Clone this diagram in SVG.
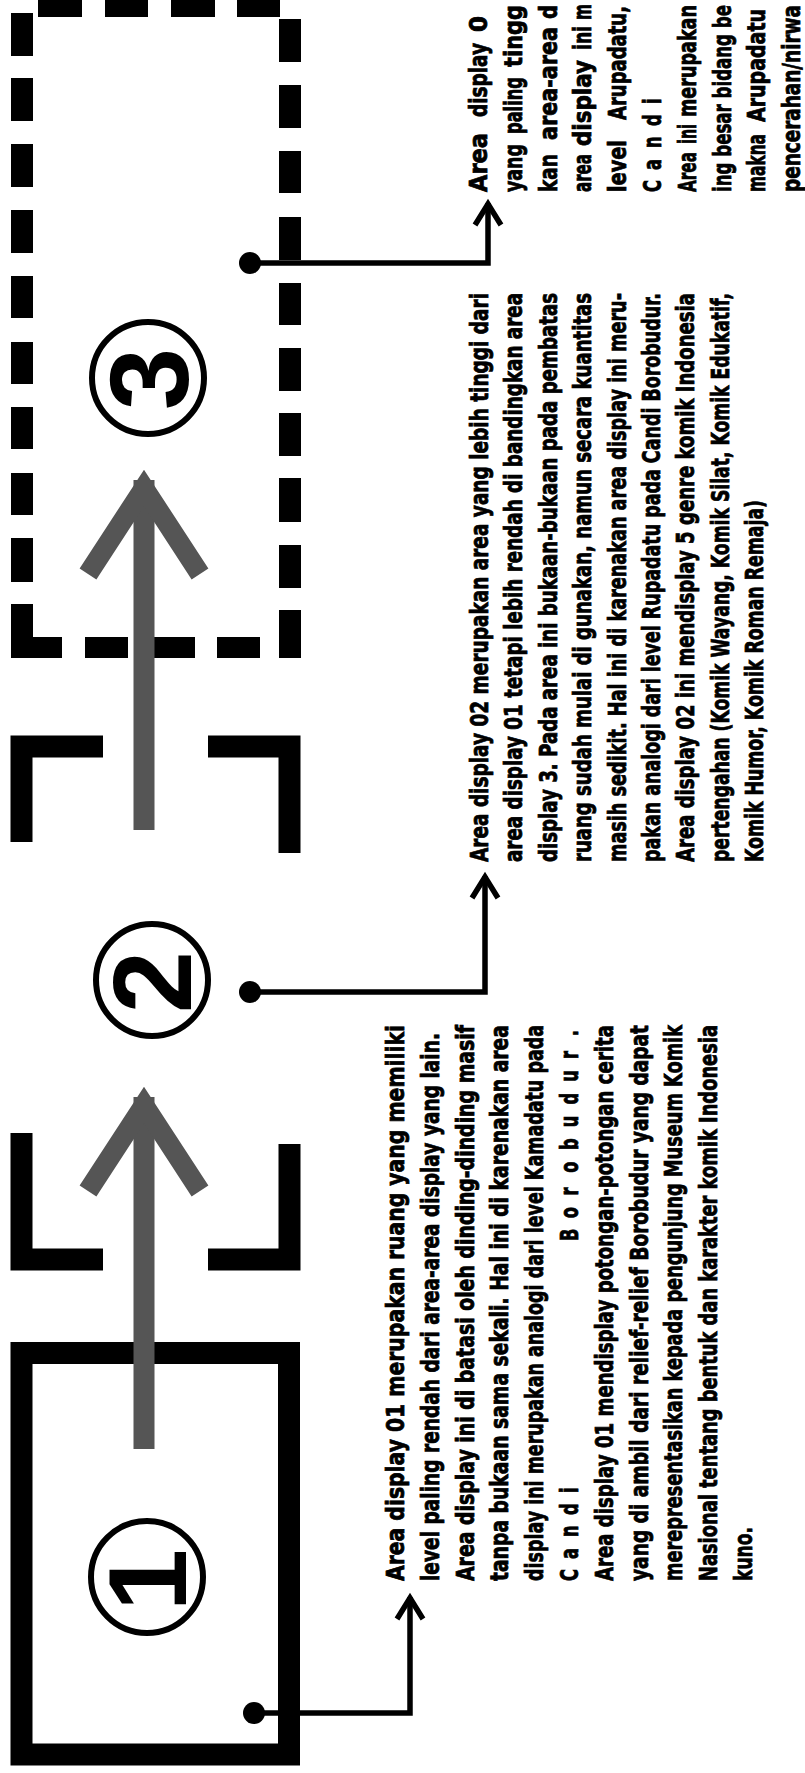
<svg xmlns="http://www.w3.org/2000/svg" width="805" height="1773" viewBox="0 0 805 1773">
<style>
.dash{fill:#000}
.corner{fill:none;stroke:#000;stroke-width:22;stroke-linejoin:miter;stroke-linecap:butt}
.conn{fill:none;stroke:#000;stroke-width:5.5;stroke-linejoin:miter}
.dot{fill:#000}
.gshaft{fill:#555}
.ghead{fill:none;stroke:#555;stroke-width:20;stroke-linejoin:miter;stroke-linecap:butt}
.circ{fill:none;stroke:#000;stroke-width:6}
.num{font-family:"Liberation Sans",Arial,sans-serif;font-weight:bold;font-size:112px;fill:#000}
.t{font-family:"DejaVu Sans","Liberation Sans",sans-serif;font-weight:bold;font-size:25px;fill:#000;stroke:#000;stroke-width:0.8}
</style>
<rect x="0" y="0" width="805" height="1773" fill="#fff"/>

<g id="area3">
  <rect class="dash" x="38" y="0" width="44" height="17"/>
  <rect class="dash" x="105" y="0" width="43" height="17"/>
  <rect class="dash" x="171" y="0" width="44" height="17"/>
  <rect class="dash" x="237" y="0" width="43" height="17"/>
  <rect class="dash" x="11" y="13" width="22" height="43"/>
  <rect class="dash" x="11" y="78" width="22" height="43"/>
  <rect class="dash" x="11" y="144" width="22" height="43"/>
  <rect class="dash" x="11" y="210" width="22" height="43"/>
  <rect class="dash" x="11" y="276" width="22" height="42"/>
  <rect class="dash" x="11" y="342" width="22" height="42"/>
  <rect class="dash" x="11" y="407" width="22" height="42"/>
  <rect class="dash" x="11" y="473" width="22" height="42"/>
  <rect class="dash" x="11" y="538" width="22" height="44"/>
  <rect class="dash" x="11" y="604" width="22" height="54"/>
  <rect class="dash" x="11" y="637" width="51" height="21"/>
  <rect class="dash" x="279" y="19" width="22" height="43"/>
  <rect class="dash" x="279" y="85" width="22" height="43"/>
  <rect class="dash" x="279" y="151" width="22" height="42"/>
  <rect class="dash" x="279" y="217" width="22" height="43"/>
  <rect class="dash" x="279" y="283" width="22" height="42"/>
  <rect class="dash" x="279" y="348" width="22" height="43"/>
  <rect class="dash" x="279" y="413" width="22" height="43"/>
  <rect class="dash" x="279" y="478" width="22" height="44"/>
  <rect class="dash" x="279" y="545" width="22" height="43"/>
  <rect class="dash" x="279" y="610" width="22" height="48"/>
  <rect class="dash" x="85" y="637" width="43" height="21"/>
  <rect class="dash" x="153" y="637" width="42" height="21"/>
  <rect class="dash" x="217" y="637" width="43" height="21"/>
  <circle class="circ" cx="148" cy="378" r="56"/>
  <text class="num" transform="translate(148,379) rotate(-90)" x="0" y="40" text-anchor="middle">3</text>
</g>

<g id="area2">
  <path class="corner" d="M21.5,842 V746.5 H103"/>
  <path class="corner" d="M208,746.5 H289.5 V853"/>
  <path class="corner" d="M21.5,1133 V1259.5 H103"/>
  <path class="corner" d="M208,1259.5 H289.5 V1144"/>
  <circle class="circ" cx="152" cy="980" r="56"/>
  <text class="num" transform="translate(151,982) rotate(-90)" x="0" y="40" text-anchor="middle">2</text>
</g>

<g id="area1">
  <rect x="21.5" y="1353" width="267.5" height="401.5" fill="none" stroke="#000" stroke-width="22"/>
  <circle class="circ" cx="147" cy="1577" r="56"/>
  <text class="num" transform="translate(146,1580) rotate(-90)" x="0" y="40" text-anchor="middle">1</text>
</g>

<g id="connectors">
  <rect class="gshaft" x="133.5" y="480" width="21" height="350"/>
  <polyline class="ghead" points="88,574 144,488 200,574"/>
  <rect class="gshaft" x="133.5" y="1097" width="21" height="352"/>
  <polyline class="ghead" points="88,1191 144,1105 200,1191"/>

  <circle class="dot" cx="250" cy="263" r="11"/>
  <path class="conn" d="M250,263 H488 V203"/>
  <polyline class="conn" points="475,225 488,204 501,225"/>

  <circle class="dot" cx="250" cy="992" r="11"/>
  <path class="conn" d="M250,992 H485 V876"/>
  <polyline class="conn" points="472,898 485,877 498,898"/>

  <circle class="dot" cx="254" cy="1713" r="11"/>
  <path class="conn" d="M254,1713 H410 V1597"/>
  <polyline class="conn" points="397,1619 410,1598 423,1619"/>
</g>

<g id="text1" transform="translate(0,1581) rotate(-90)">
  <text class="t" x="0" y="404" textLength="556" lengthAdjust="spacingAndGlyphs">Area display 01 merupakan ruang yang memiliki</text>
  <text class="t" x="0" y="438.8" textLength="548" lengthAdjust="spacingAndGlyphs">level paling rendah dari area-area display yang lain.</text>
  <text class="t" x="0" y="473.6" textLength="556" lengthAdjust="spacingAndGlyphs">Area display ini di batasi oleh dinding-dinding masif</text>
  <text class="t" x="0" y="508.4" textLength="556" lengthAdjust="spacingAndGlyphs">tanpa bukaan sama sekali. Hal ini di karenakan area</text>
  <text class="t" x="0" y="543.2" textLength="556" lengthAdjust="spacingAndGlyphs">display ini merupakan analogi dari level Kamadatu pada</text>
  <text class="t" transform="scale(0.65,1)" y="578" x="0 33.8 67.7 101.5 135.4">Candi</text>
  <text class="t" transform="scale(0.65,1)" y="578" x="523 558 593 628 663 698 733 768 803 838">Borobudur.</text>
  <text class="t" x="0" y="612.8" textLength="556" lengthAdjust="spacingAndGlyphs">Area display 01 mendisplay potongan-potongan cerita</text>
  <text class="t" x="0" y="647.6" textLength="556" lengthAdjust="spacingAndGlyphs">yang di ambil dari relief-relief Borobudur yang dapat</text>
  <text class="t" x="0" y="682.4" textLength="556" lengthAdjust="spacingAndGlyphs">merepresentasikan kepada pengunjung Museum Komik</text>
  <text class="t" x="0" y="717.2" textLength="556" lengthAdjust="spacingAndGlyphs">Nasional tentang bentuk dan karakter komik Indonesia</text>
  <text class="t" x="0" y="752" textLength="54" lengthAdjust="spacingAndGlyphs">kuno.</text>
</g>

<g id="text2" transform="translate(0,862) rotate(-90)">
  <text class="t" x="0" y="488" textLength="569" lengthAdjust="spacingAndGlyphs">Area display 02 merupakan area yang lebih tinggi dari</text>
  <text class="t" x="0" y="522.4" textLength="569" lengthAdjust="spacingAndGlyphs">area display 01 tetapi lebih rendah di bandingkan area</text>
  <text class="t" x="0" y="556.8" textLength="569" lengthAdjust="spacingAndGlyphs">display 3. Pada area ini bukaan-bukaan pada pembatas</text>
  <text class="t" x="0" y="591.2" textLength="569" lengthAdjust="spacingAndGlyphs">ruang sudah mulai di gunakan, namun secara kuantitas</text>
  <text class="t" x="0" y="625.6" textLength="569" lengthAdjust="spacingAndGlyphs">masih sedikit. Hal ini di karenakan area display ini meru-</text>
  <text class="t" x="0" y="660" textLength="569" lengthAdjust="spacingAndGlyphs">pakan analogi dari level Rupadatu pada Candi Borobudur.</text>
  <text class="t" x="0" y="694.4" textLength="569" lengthAdjust="spacingAndGlyphs">Area display 02 ini mendisplay 5 genre komik Indonesia</text>
  <text class="t" x="0" y="728.8" textLength="569" lengthAdjust="spacingAndGlyphs">pertengahan (Komik Wayang, Komik Silat, Komik Edukatif,</text>
  <text class="t" x="0" y="763.2" textLength="362" lengthAdjust="spacingAndGlyphs">Komik Humor, Komik Roman Remaja)</text>
</g>

<g id="text3" transform="translate(0,192) rotate(-90)">
  <text class="t" y="487"><tspan x="0" textLength="59" lengthAdjust="spacingAndGlyphs">Area</tspan><tspan x="75" textLength="74" lengthAdjust="spacingAndGlyphs">display</tspan><tspan x="160" textLength="16" lengthAdjust="spacingAndGlyphs">0</tspan></text>
  <text class="t" y="521.8"><tspan x="0" textLength="48" lengthAdjust="spacingAndGlyphs">yang</tspan><tspan x="58" textLength="57" lengthAdjust="spacingAndGlyphs">paling</tspan><tspan x="125" textLength="62" lengthAdjust="spacingAndGlyphs">tingg</tspan></text>
  <text class="t" y="556.6"><tspan x="0" textLength="38" lengthAdjust="spacingAndGlyphs">kan</tspan><tspan x="52" textLength="113" lengthAdjust="spacingAndGlyphs">area-area</tspan><tspan x="173" textLength="14" lengthAdjust="spacingAndGlyphs">d</tspan></text>
  <text class="t" y="591.4"><tspan x="0" textLength="38" lengthAdjust="spacingAndGlyphs">area</tspan><tspan x="46" textLength="86" lengthAdjust="spacingAndGlyphs">display</tspan><tspan x="142" textLength="24" lengthAdjust="spacingAndGlyphs">ini</tspan><tspan x="172" textLength="16" lengthAdjust="spacingAndGlyphs">m</tspan></text>
  <text class="t" y="626.2"><tspan x="0" textLength="52" lengthAdjust="spacingAndGlyphs">level</tspan><tspan x="72" textLength="114" lengthAdjust="spacingAndGlyphs">Arupadatu,</tspan></text>
  <text class="t" transform="scale(0.65,1)" y="661" x="0 33.8 67.7 101.5 135.4">Candi</text>
  <text class="t" y="695.8"><tspan x="0" textLength="40" lengthAdjust="spacingAndGlyphs">Area</tspan><tspan x="48" textLength="20" lengthAdjust="spacingAndGlyphs">ini</tspan><tspan x="75" textLength="112" lengthAdjust="spacingAndGlyphs">merupakan</tspan></text>
  <text class="t" x="0" y="730.6" textLength="187" lengthAdjust="spacingAndGlyphs">ing besar bidang be</text>
  <text class="t" y="765.4"><tspan x="0" textLength="58" lengthAdjust="spacingAndGlyphs">makna</tspan><tspan x="70" textLength="113" lengthAdjust="spacingAndGlyphs">Arupadatu</tspan></text>
  <text class="t" x="0" y="800.2" textLength="187" lengthAdjust="spacingAndGlyphs">pencerahan/nirwa</text>
</g>
</svg>
